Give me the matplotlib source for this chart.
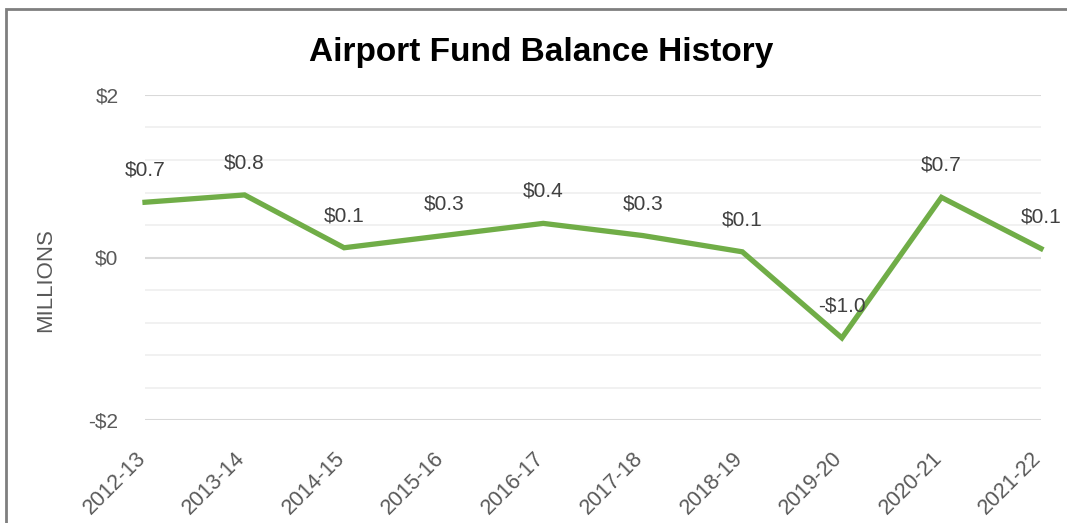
import matplotlib.pyplot as plt
from matplotlib.patches import Rectangle
from matplotlib.transforms import ScaledTranslation
import numpy as np

# data
years = ['2012-13', '2013-14', '2014-15', '2015-16', '2016-17',
         '2017-18', '2018-19', '2019-20', '2020-21', '2021-22']
balance = [0.68, 0.77, 0.12, 0.27, 0.42, 0.27, 0.07, -0.99, 0.74, 0.11]
yticks = [-2, 0, 2]
ytick_labels = ['-$2', '$0', '$2']

plt.rcParams['font.family'] = ['Liberation Sans', 'DejaVu Sans']
gray = '#595959'

fig = plt.figure(figsize=(10.67, 5.23), dpi=100)
ax = fig.add_axes([145 / 1067, 1 - 420 / 523, (1041 - 145) / 1067, (420 - 95) / 523])

# outer chart frame (only top and left edges visible in the crop)
fig.patches.append(Rectangle((6 / 1067, -0.1), 1.2, 1 - 9 / 523 + 0.1,
                             transform=fig.transFigure, fill=False,
                             edgecolor='#7f7f7f', linewidth=2))

x = np.arange(len(years))

# gridlines
for g in np.arange(-2, 2.01, 0.4):
    major = abs(g - round(g / 2) * 2) < 1e-6
    ax.axhline(g, color='#d9d9d9' if major else '#efefef',
               linewidth=1.5 if major else 1.2, zorder=0)

ax.plot(x, balance, color='#70AD47', linewidth=3.8, solid_joinstyle='miter',
        clip_on=False, zorder=3)

for xi, v in zip(x, balance):
    lbl = ('-$%.1f' % abs(v)) if v < 0 else ('$%.1f' % v)
    ax.annotate(lbl, (xi, v), xytext=(0, 23), textcoords='offset points',
                ha='center', va='center', fontsize=15, color='#404040',
                annotation_clip=False, zorder=4)

ax.set_xlim(0, len(years) - 1)
ax.set_ylim(-2, 2)
ax.set_yticks(yticks)
ax.set_yticklabels(ytick_labels, fontsize=15, color=gray)
ax.set_xticks(x)
ax.set_xticklabels(years, rotation=45, ha='right', rotation_mode='anchor',
                   fontsize=15.5, color=gray)
ax.tick_params(axis='both', length=0)
ax.tick_params(axis='y', pad=19)
ax.tick_params(axis='x', pad=20)
shift = ScaledTranslation(-0.1, 0, fig.dpi_scale_trans)
for t in ax.get_xticklabels():
    t.set_transform(t.get_transform() + shift)
for s in ax.spines.values():
    s.set_visible(False)

fig.text(46 / 1067, 1 - 280 / 523, 'MILLIONS', rotation=90, ha='center',
         va='center', fontsize=16, color=gray)
fig.text(541 / 1067, 1 - 52 / 523, 'Airport Fund Balance History',
         ha='center', va='center', fontsize=24, fontweight='bold', color='black')

plt.savefig('out.png', dpi=100)
